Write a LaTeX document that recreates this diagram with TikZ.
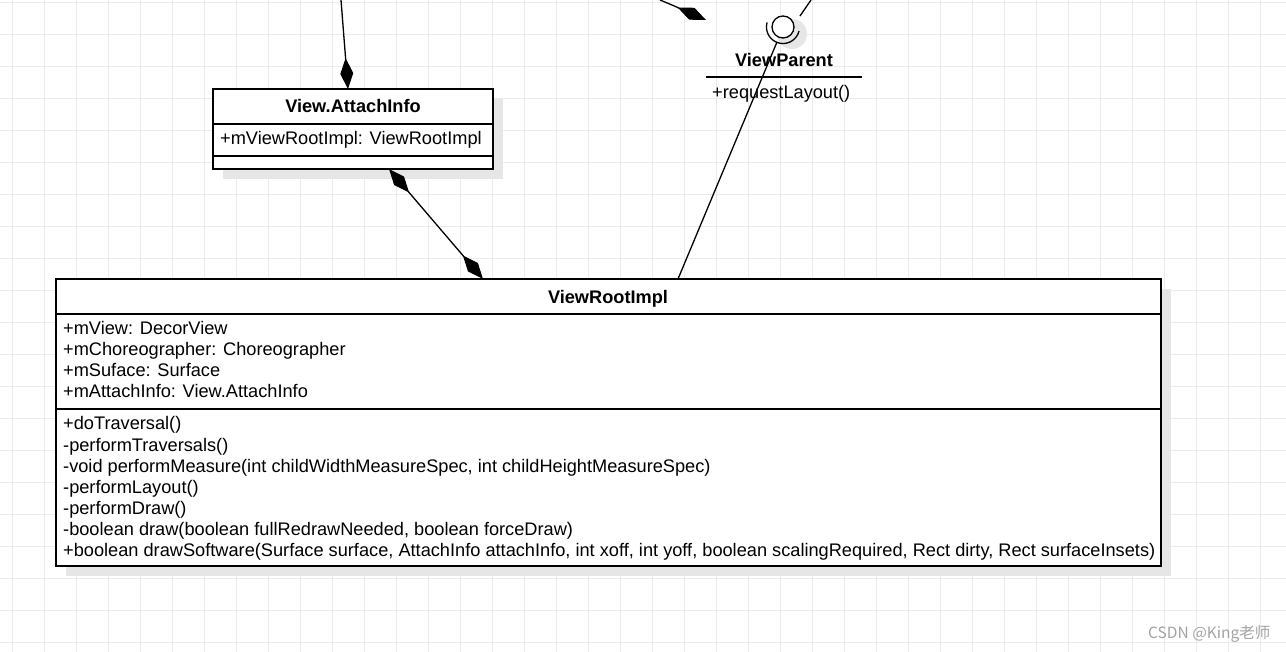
\documentclass[tikz,border=0pt]{standalone}
\usepackage{fontspec}
\setmainfont{Liberation Sans}
\newfontfamily\cjkfont{Noto Sans CJK SC}
\usetikzlibrary{arrows.meta}
\definecolor{gridc}{HTML}{EBEBEB}
\definecolor{shadowc}{HTML}{E6E6E6}
\definecolor{wmark}{HTML}{A3A3A3}
\tikzset{
  gridline/.style={draw=gridc, line width=0.9pt},
  umlbox/.style={draw=black, line width=1.3pt, fill=white, rectangle, inner sep=0pt, outer sep=0pt, anchor=north west},
  sepline/.style={draw=black, line width=1.3pt},
  shadowbox/.style={fill=shadowc},
  txt/.style={font=\fontsize{18.2}{21}\selectfont, inner sep=0pt, anchor=base west},
  hdr/.style={font=\fontsize{18.2}{21}\selectfont\bfseries, inner sep=0pt, anchor=base},
  conn/.style={draw=black, line width=1.3pt},
  comp/.style={conn, -{Diamond[length=31pt,width=13pt]}},
  compboth/.style={conn, {Diamond[length=31pt,width=13pt]}-{Diamond[length=31pt,width=13pt]}},
}
\begin{document}
\begin{tikzpicture}[x=1pt,y=-1pt]
\useasboundingbox (0,0) rectangle (1286,652);
\fill[white] (0,0) rectangle (1286,652);
% grid
\foreach \i in {0,...,39} \draw[gridline] ({12+32*\i},0) -- ++(0,652);
\foreach \j in {0,...,20} \draw[gridline] (0,{2+32*\j}) -- ++(1286,0);

% shadows
\fill[shadowbox] (223,99) rectangle (503,179);
\fill[shadowbox] (66,289) rectangle (1171,576);
\fill[shadowbox] (792,34) circle (15);

% View.AttachInfo
\node[umlbox, minimum width=280pt, minimum height=80pt] (ai) at (213,89) {};
\draw[sepline] (ai.west |- 0,124) -- (ai.east |- 0,124);
\draw[sepline] (ai.west |- 0,156) -- (ai.east |- 0,156);
\node[hdr] (aih) at (353,112.5) {View.AttachInfo};
\node[txt] (aia) at (220,144.5) {+mViewRootImpl: ViewRootImpl};

% ViewRootImpl
\node[umlbox, minimum width=1105pt, minimum height=287pt] (vri) at (56,279) {};
\draw[sepline] (vri.west |- 0,314) -- (vri.east |- 0,314);
\draw[sepline] (vri.west |- 0,409) -- (vri.east |- 0,409);
\node[hdr] (vrih) at (608,303.5) {ViewRootImpl};
\foreach \t [count=\i from 0] in {{+mView: DecorView},{+mChoreographer: Choreographer},{+mSuface: Surface},{+mAttachInfo: View.AttachInfo}}
  \node[txt] (va\i) at (63,{335+21*\i}) {\t};
\foreach \t [count=\i from 0] in {{+doTraversal()},{-performTraversals()},{-void performMeasure(int childWidthMeasureSpec, int childHeightMeasureSpec)},{-performLayout()},{-performDraw()},{-boolean draw(boolean fullRedrawNeeded, boolean forceDraw)},{+boolean drawSoftware(Surface surface, AttachInfo attachInfo, int xoff, int yoff, boolean scalingRequired, Rect dirty, Rect surfaceInsets)}}
  \node[txt] (vm\i) at (63,{430+21*\i}) {\t};

% ViewParent interface (lollipop)
\node[circle, draw=black, line width=1.3pt, fill=white, minimum size=22pt, inner sep=0pt] (vp) at (783,27) {};
\draw[conn] plot[domain=14:196, samples=40, smooth] ({783+16.5*cos(\x)},{27+16.5*sin(\x)});
\node[hdr] (vph) at (784,66.5) {ViewParent};
\coordinate (vpl) at (706,77);
\coordinate (vpr) at (862,77);
\draw[sepline] (vpl) -- (vpr);
\node[txt] (vpm) at (712,98.5) {+requestLayout()};

% connectors
\coordinate (topA) at (341,0);
\coordinate (aiTop) at (348,89);
\draw[comp] (topA) -- (aiTop);

\coordinate (aiBot) at (389,169);
\coordinate (vriTopA) at (483,279);
\draw[compboth] (aiBot) -- (vriTopA);

\coordinate (vriTopB) at (678,279);
\coordinate (sock) at (777,42);
\draw[conn] (vriTopB) -- (sock);

\coordinate (vpTopR) at (800,16);
\coordinate (topC) at (811,0);
\draw[conn] (vpTopR) -- (topC);

\coordinate (topB) at (660,0);
\coordinate (diaEnd) at (706,20);
\draw[comp] (topB) .. controls (672,5) .. (diaEnd);

% watermark
\node[font=\cjkfont\fontsize{15.5}{18}\selectfont, text=wmark, inner sep=0pt, anchor=base west] (wm) at (1148,638) {CSDN @King老师};
\end{tikzpicture}
\end{document}
